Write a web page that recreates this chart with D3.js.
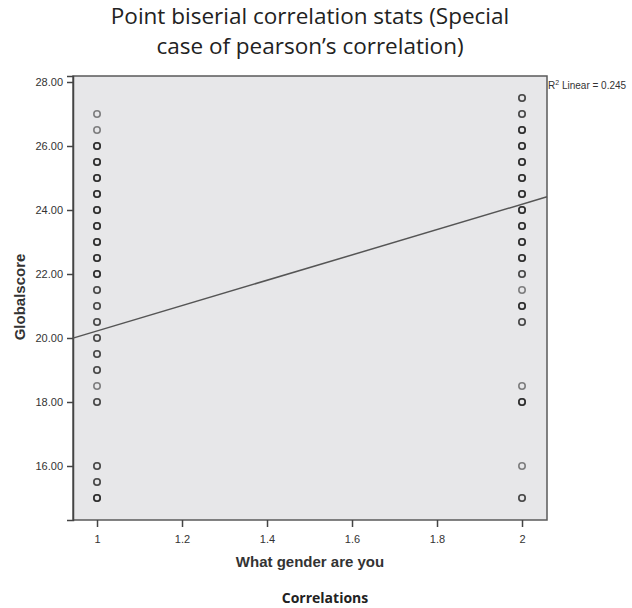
<!DOCTYPE html>
<html>
<head>
<meta charset="utf-8">
<script src="https://cdn.jsdelivr.net/npm/d3@7"></script>
<style>
  html, body { margin: 0; padding: 0; background: #fff; }
  svg { display: block; }
</style>
</head>
<body>
<svg id="chart" width="632" height="608"></svg>
<script>
// ---- data ----
const titleLines = ["Point biserial correlation stats (Special", "case of pearson\u2019s correlation)"];
const xLabel = "What gender are you";
const yLabel = "Globalscore";
const footer = "Correlations";

const genders = [1, 2];
const scoresGender1 = [27, 26.5, 26, 25.5, 25, 24.5, 24, 23.5, 23, 22.5, 22, 21.5, 21, 20.5, 20, 19.5, 19, 18.5, 18, 16, 15.5, 15];
const countsGender1 = [1, 1, 3, 3, 3, 3, 3, 3, 3, 3, 3, 2, 2, 2, 2, 2, 2, 1, 2, 2, 2, 3];
const scoresGender2 = [27.5, 27, 26.5, 26, 25.5, 25, 24.5, 24, 23.5, 23, 22.5, 22, 21.5, 21, 20.5, 18.5, 18, 16, 15];
const countsGender2 = [2, 2, 3, 3, 3, 3, 3, 3, 3, 3, 3, 2, 1, 3, 2, 1, 3, 1, 2];

const xTicks = [1, 1.2, 1.4, 1.6, 1.8, 2];
const yTicks = [16, 18, 20, 22, 24, 26, 28];

const fitIntercept = 16.26;
const fitSlope = 3.96;
const rSquared = 0.245;

// ---- layout ----
const svg = d3.select("#chart");
const plot = { left: 73, right: 547, top: 76, bottom: 520 };

const x = d3.scaleLinear().domain([0.9435, 2.0588]).range([plot.left, plot.right]);
const y = d3.scaleLinear().domain([14.3125, 28.1875]).range([plot.bottom, plot.top]);

// title
const title = svg.append("g")
  .attr("font-family", "'Open Sans', 'Noto Sans', sans-serif")
  .attr("font-size", 22.5)
  .attr("fill", "#222")
  .attr("text-anchor", "middle");
titleLines.forEach((t, i) => {
  const el = title.append("text")
    .attr("x", 310)
    .attr("y", 24 + i * 30)
    .text(t);
  const target = i === 0 ? 412 : 314;
  const w = el.node().getComputedTextLength();
  if (w > target) el.attr("textLength", target).attr("lengthAdjust", "spacingAndGlyphs");
});

// plot frame
svg.append("rect")
  .attr("x", plot.left)
  .attr("y", plot.top)
  .attr("width", plot.right - plot.left)
  .attr("height", plot.bottom - plot.top)
  .attr("fill", "#e7e7e9")
  .attr("stroke", "#5a5a5a")
  .attr("stroke-width", 1.5);

// y axis
const yAxis = svg.append("g")
  .attr("transform", `translate(${plot.left},0)`)
  .call(d3.axisLeft(y).tickValues(yTicks).tickFormat(d3.format(".2f")).tickSize(6).tickPadding(4));
yAxis.select(".domain").attr("stroke", "#444").attr("stroke-width", 1.5);
yAxis.selectAll(".tick line").attr("stroke", "#444").attr("stroke-width", 1.5);
yAxis.selectAll(".tick text")
  .attr("font-family", "Arial, 'Liberation Sans', sans-serif")
  .attr("font-size", 11)
  .attr("fill", "#333");

// x axis
const xAxis = svg.append("g")
  .attr("transform", `translate(0,${plot.bottom})`)
  .call(d3.axisBottom(x).tickValues(xTicks).tickFormat(d => d3.format("")(d)).tickSize(7).tickPadding(8));
xAxis.select(".domain").remove();
xAxis.selectAll(".tick line").attr("stroke", "#444").attr("stroke-width", 1.5);
xAxis.selectAll(".tick text")
  .attr("font-family", "Arial, 'Liberation Sans', sans-serif")
  .attr("font-size", 11)
  .attr("fill", "#333");

// fit line
const xd = x.domain();
svg.append("line")
  .attr("x1", x(xd[0])).attr("y1", y(fitIntercept + fitSlope * xd[0]))
  .attr("x2", x(xd[1])).attr("y2", y(fitIntercept + fitSlope * xd[1]))
  .attr("stroke", "#555")
  .attr("stroke-width", 1.5);

// points (each observation drawn, overlaps darken)
const obs = [];
[[scoresGender1, countsGender1], [scoresGender2, countsGender2]].forEach(([s, c], gi) => {
  s.forEach((v, i) => {
    for (let k = 0; k < c[i]; k++) obs.push({ g: genders[gi], v });
  });
});
svg.append("g")
  .selectAll("circle")
  .data(obs)
  .join("circle")
  .attr("cx", d => x(d.g))
  .attr("cy", d => y(d.v))
  .attr("r", 3.2)
  .attr("fill", "none")
  .attr("stroke", "#151515")
  .attr("stroke-opacity", 0.5)
  .attr("stroke-width", 1.6);

// R² label
const r2 = svg.append("text")
  .attr("x", plot.right + 1)
  .attr("y", 89)
  .attr("font-family", "Arial, 'Liberation Sans', sans-serif")
  .attr("font-size", 10)
  .attr("fill", "#333");
r2.append("tspan").text("R");
r2.append("tspan").attr("font-size", 7).attr("dy", -4).text("2");
r2.append("tspan").attr("dy", 4).text(" Linear = " + d3.format(".3f")(rSquared));

// axis titles
svg.append("text")
  .attr("transform", "translate(25,297) rotate(-90)")
  .attr("text-anchor", "middle")
  .attr("font-family", "Arial, 'Liberation Sans', sans-serif")
  .attr("font-weight", "bold")
  .attr("font-size", 15)
  .attr("fill", "#333")
  .text(yLabel);

svg.append("text")
  .attr("x", 310)
  .attr("y", 567)
  .attr("text-anchor", "middle")
  .attr("font-family", "Arial, 'Liberation Sans', sans-serif")
  .attr("font-weight", "bold")
  .attr("font-size", 15)
  .attr("fill", "#333")
  .text(xLabel);

svg.append("text")
  .attr("x", 325)
  .attr("y", 603)
  .attr("text-anchor", "middle")
  .attr("font-family", "'Open Sans', 'Noto Sans', sans-serif")
  .attr("font-weight", "bold")
  .attr("font-size", 14)
  .attr("fill", "#222")
  .text(footer);
</script>
</body>
</html>
